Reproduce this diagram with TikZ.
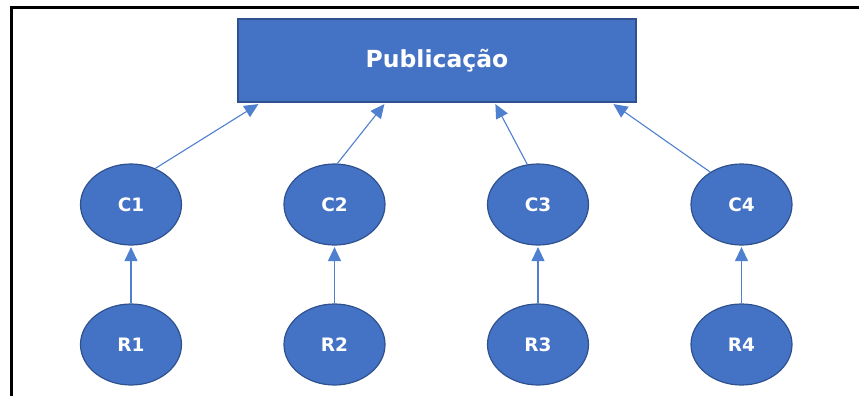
\documentclass[tikz,border=0pt]{standalone}
\usepackage{fontspec}
\setmainfont{DejaVu Sans}
\usetikzlibrary{shapes.geometric,arrows.meta,calc}
\definecolor{fillblue}{HTML}{4472C4}
\definecolor{edgeblue}{HTML}{2F528F}
\definecolor{linkblue}{HTML}{4F7FCF}
\begin{document}
\begin{tikzpicture}[x=1pt,y=-1pt,
  circnode/.style={ellipse,draw=edgeblue,fill=fillblue,line width=1.2pt,minimum width=101pt,minimum height=81pt,inner sep=0pt,text=white,font=\bfseries\fontsize{18.5}{21}\selectfont},
  boxnode/.style={rectangle,draw=edgeblue,fill=fillblue,line width=1.2pt,minimum width=398pt,minimum height=83pt,inner sep=0pt,text=white,font=\bfseries\fontsize{23.5}{27}\selectfont},
  link/.style={draw=linkblue,line width=1.1pt,-{Triangle[length=14pt,width=13pt]}}]
\useasboundingbox (0,0) rectangle (859,396);
\draw[line width=2.5pt] (11.5,396) -- (11.5,7.5) -- (859,7.5);
\node[boxnode] (P) at (437,60.5) {Publicação};
\node[circnode] (C1) at (131,204.5) {C1};
\node[circnode] (C2) at (334.5,204.5) {C2};
\node[circnode] (C3) at (538,204.5) {C3};
\node[circnode] (C4) at (741.5,204.5) {C4};
\node[circnode] (R1) at (131,344.5) {R1};
\node[circnode] (R2) at (334.5,344.5) {R2};
\node[circnode] (R3) at (538,344.5) {R3};
\node[circnode] (R4) at (741.5,344.5) {R4};
\coordinate (t1) at ($(P.south west)+(21,1.5)$);
\coordinate (t2) at ($(P.south west)+(147,1.5)$);
\coordinate (t3) at ($(P.south west)+(258,1.5)$);
\coordinate (t4) at ($(P.south west)+(376,1.5)$);
\draw[link] (C1.56) -- (t1);
\draw[link] (C2.86) -- (t2);
\draw[link] (C3.105) -- (t3);
\draw[link] (C4.134) -- (t4);
\draw[link] (R1.north) -- ($(C1.south)+(0,1.5)$);
\draw[link] (R2.north) -- ($(C2.south)+(0,1.5)$);
\draw[link] (R3.north) -- ($(C3.south)+(0,1.5)$);
\draw[link] (R4.north) -- ($(C4.south)+(0,1.5)$);
\end{tikzpicture}
\end{document}
